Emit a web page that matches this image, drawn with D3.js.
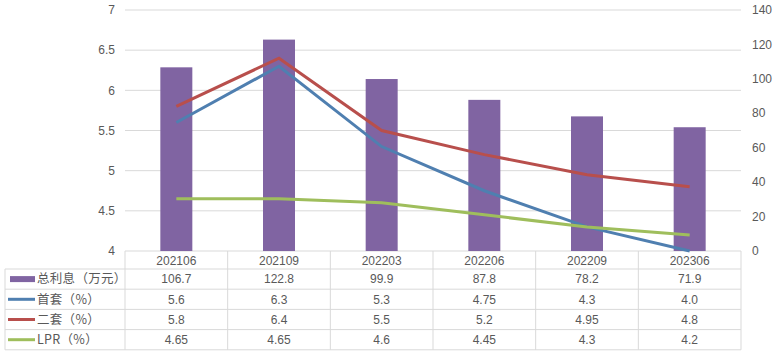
<!DOCTYPE html>
<html>
<head>
<meta charset="utf-8">
<script src="https://cdn.jsdelivr.net/npm/d3@7"></script>
<style>
  body { margin: 0; background: #fff; }
  svg text { font-family: "Liberation Sans Narrow", "Liberation Sans", "Noto Sans CJK SC", sans-serif; fill: #595959; font-size: 12px; }
  svg text.cjk { font-family: "Noto Sans CJK SC", sans-serif; font-size: 12.5px; letter-spacing: 0.3px; }
</style>
</head>
<body>
<div id="chart"></div>
<script>
// 数据
const periods = ["202106", "202109", "202203", "202206", "202209", "202306"];
const totalInterest = [106.7, 122.8, 99.9, 87.8, 78.2, 71.9];
const firstHome = [5.6, 6.3, 5.3, 4.75, 4.3, 4.0];
const secondHome = [5.8, 6.4, 5.5, 5.2, 4.95, 4.8];
const lpr = [4.65, 4.65, 4.6, 4.45, 4.3, 4.2];
const firstHomeLabels = ["5.6", "6.3", "5.3", "4.75", "4.3", "4.0"];
const leftTicks = [4, 4.5, 5, 5.5, 6, 6.5, 7];
const rightTicks = [0, 20, 40, 60, 80, 100, 120, 140];

const rows = [
  {name: "总利息（万元）", type: "bar", color: "#8064a2", values: totalInterest, labels: totalInterest.map(String)},
  {name: "首套（%）", type: "line", color: "#4f7fb0", values: firstHome, labels: firstHomeLabels},
  {name: "二套（%）", type: "line", color: "#b84f4c", values: secondHome, labels: secondHome.map(String)},
  {name: "LPR（%）", type: "line", color: "#9fbe5c", values: lpr, labels: lpr.map(String)}
];

const W = 774, H = 354;
const plot = {left: 125, right: 741, top: 10, bottom: 251};
const tableLeft = 5, rowH = 20.2, headerH = 18;

const svg = d3.select("#chart").append("svg")
  .attr("width", W).attr("height", H);

const x = d3.scaleBand().domain(periods).range([plot.left, plot.right]);
const yL = d3.scaleLinear().domain([4, 7]).range([plot.bottom, plot.top]);
const yR = d3.scaleLinear().domain([0, 140]).range([plot.bottom, plot.top]);

// 网格线
svg.append("g").selectAll("line").data(leftTicks).join("line")
  .attr("x1", plot.left).attr("x2", plot.right)
  .attr("y1", d => yL(d)).attr("y2", d => yL(d))
  .attr("stroke", "#d9d9d9").attr("stroke-width", 1);

// 左轴
svg.append("g").selectAll("text").data(leftTicks).join("text")
  .attr("x", 115).attr("y", d => yL(d)).attr("dy", "0.35em")
  .attr("text-anchor", "end").text(d => d);

// 右轴
svg.append("g").selectAll("text").data(rightTicks).join("text")
  .attr("x", 752).attr("y", d => yR(d)).attr("dy", "0.35em")
  .attr("text-anchor", "start").text(d => d);

// 柱
const barW = 32;
svg.append("g").selectAll("rect").data(totalInterest).join("rect")
  .attr("x", (d, i) => x(periods[i]) + x.bandwidth() / 2 - barW / 2)
  .attr("width", barW)
  .attr("y", d => yR(d))
  .attr("height", d => plot.bottom - yR(d))
  .attr("fill", "#8064a2");

// 折线
const line = d3.line()
  .x((d, i) => x(periods[i]) + x.bandwidth() / 2)
  .y(d => yL(d));

rows.filter(r => r.type === "line").forEach(r => {
  svg.append("path")
    .datum(r.values)
    .attr("d", line)
    .attr("fill", "none")
    .attr("stroke", r.color)
    .attr("stroke-width", 3);
});

// 数据表
const tg = svg.append("g");
const tableBottom = plot.bottom + headerH + rowH * rows.length;
const gridC = "#d9d9d9";

// 竖线
const vx = periods.map(p => x(p)).concat([plot.right]);
tg.selectAll(".vline").data(vx).join("line")
  .attr("x1", d => d).attr("x2", d => d)
  .attr("y1", plot.bottom).attr("y2", tableBottom)
  .attr("stroke", gridC);
tg.append("line")
  .attr("x1", tableLeft).attr("x2", tableLeft)
  .attr("y1", plot.bottom + headerH).attr("y2", tableBottom)
  .attr("stroke", gridC);

// 横线
const hy = d3.range(rows.length + 1).map(i => plot.bottom + headerH + i * rowH);
tg.selectAll(".hline").data(hy).join("line")
  .attr("x1", tableLeft).attr("x2", plot.right)
  .attr("y1", d => d).attr("y2", d => d)
  .attr("stroke", gridC);

// 表头
tg.selectAll(".hdr").data(periods).join("text")
  .attr("x", d => x(d) + x.bandwidth() / 2)
  .attr("y", plot.bottom + headerH / 2 + 1).attr("dy", "0.35em")
  .attr("text-anchor", "middle").text(d => d);

rows.forEach((r, ri) => {
  const cy = plot.bottom + headerH + ri * rowH + rowH / 2;
  if (r.type === "bar") {
    tg.append("rect").attr("x", 10).attr("y", cy - 3).attr("width", 25).attr("height", 6).attr("fill", r.color);
  } else {
    tg.append("line").attr("x1", 8).attr("x2", 35).attr("y1", cy).attr("y2", cy)
      .attr("stroke", r.color).attr("stroke-width", 3);
  }
  tg.append("text").attr("class", "cjk")
    .attr("x", 37).attr("y", cy).attr("dy", "0.35em").text(r.name);
  tg.selectAll(".v" + ri).data(r.labels).join("text")
    .attr("x", (d, i) => x(periods[i]) + x.bandwidth() / 2)
    .attr("y", cy).attr("dy", "0.35em")
    .attr("text-anchor", "middle").text(d => d);
});
</script>
</body>
</html>
